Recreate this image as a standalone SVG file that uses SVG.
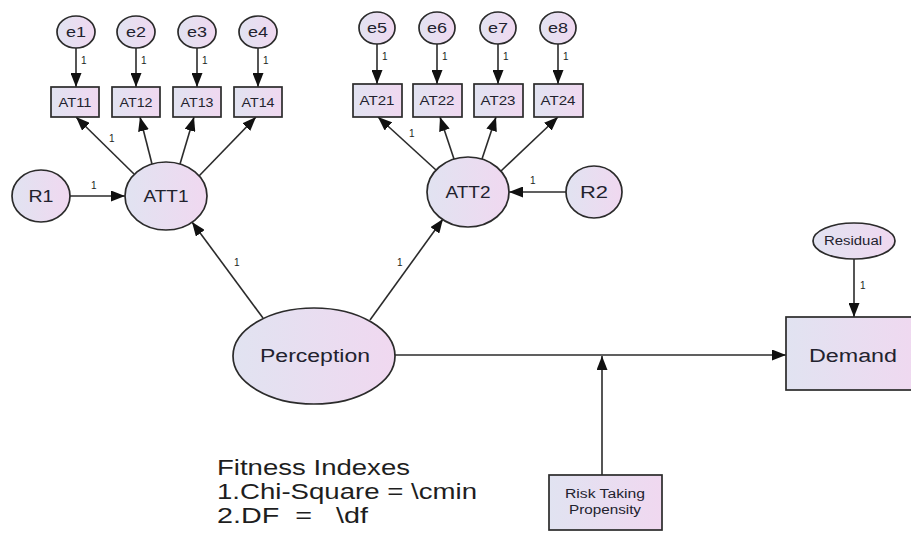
<svg xmlns="http://www.w3.org/2000/svg" width="911" height="533" viewBox="0 0 911 533">
<style>
.n{stroke:#2b2b2b;stroke-width:1.7;fill:url(#g)}
.t{font-family:"Liberation Sans",Arial,sans-serif;fill:#22222e;text-anchor:middle}
.c{stroke:#2b2b2b;stroke-width:1.6;fill:none;marker-end:url(#a)}
.l{font-family:"Liberation Sans",Arial,sans-serif;font-size:10px;fill:#222}
.f{font-family:"Liberation Sans",Arial,sans-serif;font-size:21.5px;fill:#1e1e1e}
</style>
<defs>
<linearGradient id="g" x1="0" y1="0" x2="1" y2="0">
<stop offset="0" stop-color="#e1e3f1"/>
<stop offset="1" stop-color="#f0d8f0"/>
</linearGradient>
<marker id="a" markerUnits="userSpaceOnUse" markerWidth="14" markerHeight="11" refX="14" refY="5.5" orient="auto">
<path d="M0,0 L14,5.5 L0,11 z" fill="#111"/>
</marker>
</defs>
<rect width="911" height="533" fill="#fff"/>

<g id="connectors">
<line class="c" x1="76" y1="48" x2="76" y2="87"/>
<line class="c" x1="136" y1="48" x2="136" y2="87"/>
<line class="c" x1="197" y1="48" x2="197" y2="87"/>
<line class="c" x1="258" y1="48" x2="258" y2="87"/>
<line class="c" x1="377" y1="44" x2="377" y2="84"/>
<line class="c" x1="437" y1="44" x2="437" y2="84"/>
<line class="c" x1="498" y1="44" x2="498" y2="84"/>
<line class="c" x1="558" y1="44" x2="558" y2="84"/>
<line class="c" x1="134" y1="174" x2="76" y2="117"/>
<line class="c" x1="152" y1="164" x2="140" y2="117"/>
<line class="c" x1="180" y1="164" x2="194" y2="117"/>
<line class="c" x1="199" y1="176" x2="256" y2="117"/>
<line class="c" x1="70" y1="196" x2="125" y2="196"/>
<line class="c" x1="436" y1="170" x2="378" y2="117"/>
<line class="c" x1="454" y1="159" x2="440" y2="117"/>
<line class="c" x1="482" y1="159" x2="496" y2="117"/>
<line class="c" x1="501" y1="171" x2="558" y2="117"/>
<line class="c" x1="566" y1="192" x2="509" y2="192"/>
<line class="c" x1="263" y1="318" x2="192" y2="222"/>
<line class="c" x1="370" y1="320" x2="443" y2="219"/>
<line class="c" x1="395" y1="355" x2="786" y2="355"/>
<line class="c" x1="602" y1="475" x2="602" y2="356"/>
<line class="c" x1="854" y1="259" x2="854" y2="317"/>
<text class="l" x="81" y="64">1</text>
<text class="l" x="141" y="64">1</text>
<text class="l" x="202" y="64">1</text>
<text class="l" x="263" y="64">1</text>
<text class="l" x="382" y="60">1</text>
<text class="l" x="442" y="60">1</text>
<text class="l" x="503" y="60">1</text>
<text class="l" x="563" y="60">1</text>
<text class="l" x="109" y="142">1</text>
<text class="l" x="91" y="189">1</text>
<text class="l" x="409" y="137">1</text>
<text class="l" x="530" y="184">1</text>
<text class="l" x="234" y="266">1</text>
<text class="l" x="397" y="266">1</text>
<text class="l" x="860" y="289">1</text>
</g>

<g id="e1"><ellipse class="n" cx="76" cy="32" rx="19" ry="16"/><text class="t" x="76" y="37" font-size="14" textLength="20" lengthAdjust="spacingAndGlyphs">e1</text></g>
<g id="e2"><ellipse class="n" cx="136" cy="32" rx="19" ry="16"/><text class="t" x="136" y="37" font-size="14" textLength="20" lengthAdjust="spacingAndGlyphs">e2</text></g>
<g id="e3"><ellipse class="n" cx="197" cy="32" rx="19" ry="16"/><text class="t" x="197" y="37" font-size="14" textLength="20" lengthAdjust="spacingAndGlyphs">e3</text></g>
<g id="e4"><ellipse class="n" cx="258" cy="32" rx="19" ry="16"/><text class="t" x="258" y="37" font-size="14" textLength="20" lengthAdjust="spacingAndGlyphs">e4</text></g>
<g id="e5"><ellipse class="n" cx="377" cy="28" rx="18" ry="16"/><text class="t" x="377" y="33" font-size="14" textLength="20" lengthAdjust="spacingAndGlyphs">e5</text></g>
<g id="e6"><ellipse class="n" cx="437" cy="28" rx="18" ry="16"/><text class="t" x="437" y="33" font-size="14" textLength="20" lengthAdjust="spacingAndGlyphs">e6</text></g>
<g id="e7"><ellipse class="n" cx="498" cy="28" rx="18" ry="16"/><text class="t" x="498" y="33" font-size="14" textLength="20" lengthAdjust="spacingAndGlyphs">e7</text></g>
<g id="e8"><ellipse class="n" cx="558" cy="28" rx="18" ry="16"/><text class="t" x="558" y="33" font-size="14" textLength="20" lengthAdjust="spacingAndGlyphs">e8</text></g>

<g id="AT11"><rect class="n" x="51" y="87" width="48" height="30"/><text class="t" x="75" y="107" font-size="12" textLength="33" lengthAdjust="spacingAndGlyphs">AT11</text></g>
<g id="AT12"><rect class="n" x="112" y="87" width="48" height="30"/><text class="t" x="136" y="107" font-size="12" textLength="33" lengthAdjust="spacingAndGlyphs">AT12</text></g>
<g id="AT13"><rect class="n" x="173" y="87" width="48" height="30"/><text class="t" x="197" y="107" font-size="12" textLength="33" lengthAdjust="spacingAndGlyphs">AT13</text></g>
<g id="AT14"><rect class="n" x="234" y="87" width="48" height="30"/><text class="t" x="258" y="107" font-size="12" textLength="33" lengthAdjust="spacingAndGlyphs">AT14</text></g>
<g id="AT21"><rect class="n" x="353" y="84" width="49" height="33"/><text class="t" x="377" y="105" font-size="12" textLength="35" lengthAdjust="spacingAndGlyphs">AT21</text></g>
<g id="AT22"><rect class="n" x="413" y="84" width="49" height="33"/><text class="t" x="437" y="105" font-size="12" textLength="35" lengthAdjust="spacingAndGlyphs">AT22</text></g>
<g id="AT23"><rect class="n" x="474" y="84" width="49" height="33"/><text class="t" x="498" y="105" font-size="12" textLength="35" lengthAdjust="spacingAndGlyphs">AT23</text></g>
<g id="AT24"><rect class="n" x="534" y="84" width="49" height="33"/><text class="t" x="558" y="105" font-size="12" textLength="35" lengthAdjust="spacingAndGlyphs">AT24</text></g>

<g id="R1"><ellipse class="n" cx="41" cy="196" rx="29" ry="26"/><text class="t" x="41" y="202" font-size="16" textLength="25" lengthAdjust="spacingAndGlyphs">R1</text></g>
<g id="ATT1"><ellipse class="n" cx="166" cy="196" rx="41" ry="34"/><text class="t" x="166" y="202" font-size="16" textLength="45" lengthAdjust="spacingAndGlyphs">ATT1</text></g>
<g id="ATT2"><ellipse class="n" cx="468" cy="192" rx="41" ry="35"/><text class="t" x="468" y="198" font-size="16" textLength="45" lengthAdjust="spacingAndGlyphs">ATT2</text></g>
<g id="R2"><ellipse class="n" cx="594" cy="192" rx="28" ry="26"/><text class="t" x="594" y="198" font-size="16" textLength="28" lengthAdjust="spacingAndGlyphs">R2</text></g>

<g id="Perception"><ellipse class="n" cx="314" cy="356" rx="81" ry="48"/><text class="t" x="315" y="362" font-size="18" textLength="110" lengthAdjust="spacingAndGlyphs">Perception</text></g>
<g id="Residual"><ellipse class="n" cx="854" cy="241" rx="41" ry="18"/><text class="t" x="853" y="245" font-size="12" textLength="58" lengthAdjust="spacingAndGlyphs">Residual</text></g>
<g id="Demand"><rect class="n" x="786" y="317" width="135" height="73"/><text class="t" x="853" y="362" font-size="18" textLength="88" lengthAdjust="spacingAndGlyphs">Demand</text></g>
<g id="RiskTakingPropensity"><rect class="n" x="549" y="475" width="113" height="55"/><text class="t" x="605" y="498" font-size="12" textLength="80" lengthAdjust="spacingAndGlyphs">Risk Taking</text><text class="t" x="605" y="514" font-size="12" textLength="72" lengthAdjust="spacingAndGlyphs">Propensity</text></g>

<g id="fitness">
<text class="f" x="217" y="475" textLength="193" lengthAdjust="spacingAndGlyphs">Fitness Indexes</text>
<text class="f" x="217" y="499" textLength="260" lengthAdjust="spacingAndGlyphs">1.Chi-Square = \cmin</text>
<text class="f" x="217" y="523" xml:space="preserve" textLength="151" lengthAdjust="spacingAndGlyphs">2.DF  =   \df</text>
</g>
</svg>
